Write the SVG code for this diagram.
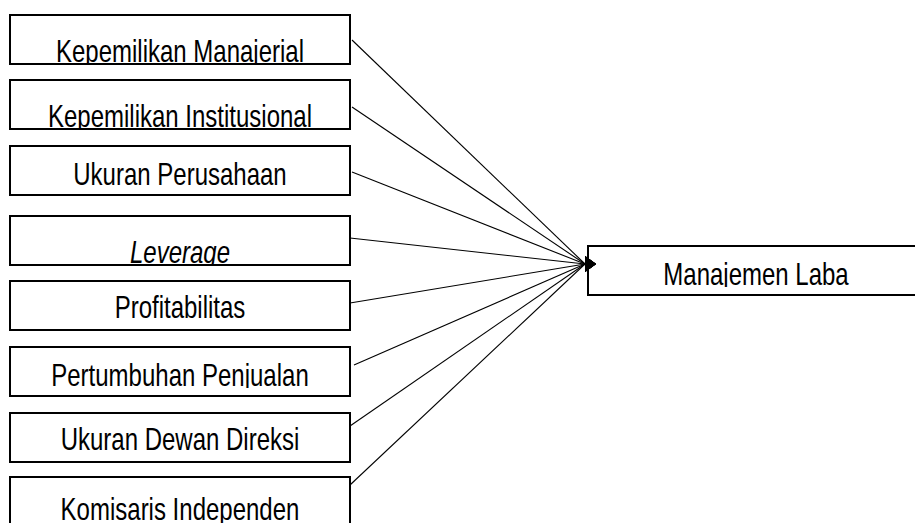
<svg xmlns="http://www.w3.org/2000/svg" width="915" height="523" viewBox="0 0 915 523">
<style>
.box{fill:#fff;stroke:#000;stroke-width:2}
.lbl{font-family:"Liberation Sans",Arial,sans-serif;font-size:24px;fill:#000;text-anchor:middle}
.it{font-style:italic}
.conn line{stroke:#000;stroke-width:1.1;fill:none}
</style>
<defs>
<marker id="ah" markerUnits="userSpaceOnUse" orient="0" viewBox="0 0 11 16" markerWidth="11" markerHeight="16" refX="0" refY="8">
<path d="M0,0 L11,8 L0,16 z" fill="#000"/>
</marker>
<clipPath id="c1" clipPathUnits="userSpaceOnUse"><rect x="10" y="15" width="340" height="49"/></clipPath>
<clipPath id="c2" clipPathUnits="userSpaceOnUse"><rect x="10" y="80" width="340" height="49"/></clipPath>
<clipPath id="c4" clipPathUnits="userSpaceOnUse"><rect x="10" y="216" width="340" height="49"/></clipPath>
<clipPath id="c6" clipPathUnits="userSpaceOnUse"><rect x="10" y="347" width="340" height="41"/></clipPath>
<clipPath id="c9" clipPathUnits="userSpaceOnUse"><rect x="588" y="246" width="340" height="41"/></clipPath>
</defs>
<rect width="915" height="523" fill="#fff"/>
<g id="n1"><rect class="box" x="10" y="15" width="340" height="49"/><g clip-path="url(#c1)"><text class="lbl" transform="translate(180 62) scale(1 1.3)">Kepemilikan Manajerial</text></g></g>
<g id="n2"><rect class="box" x="10" y="80" width="340" height="49"/><g clip-path="url(#c2)"><text class="lbl" transform="translate(180 127) scale(1 1.3)">Kepemilikan Institusional</text></g></g>
<g id="n3"><rect class="box" x="10" y="146" width="340" height="49"/><text class="lbl" transform="translate(180 185) scale(1 1.3)">Ukuran Perusahaan</text></g>
<g id="n4"><rect class="box" x="10" y="216" width="340" height="49"/><g clip-path="url(#c4)"><text class="lbl it" transform="translate(180 263) scale(1 1.3)">Leverage</text></g></g>
<g id="n5"><rect class="box" x="10" y="281" width="340" height="49"/><text class="lbl" transform="translate(180 318) scale(1 1.3)">Profitabilitas</text></g>
<g id="n6"><rect class="box" x="10" y="347" width="340" height="49"/><g clip-path="url(#c6)"><text class="lbl" transform="translate(180 386) scale(1 1.3)">Pertumbuhan Penjualan</text></g></g>
<g id="n7"><rect class="box" x="10" y="413" width="340" height="49"/><text class="lbl" transform="translate(180 450) scale(1 1.3)">Ukuran Dewan Direksi</text></g>
<g id="n8"><rect class="box" x="10" y="477" width="340" height="49"/><text class="lbl" transform="translate(180 520) scale(1 1.3)">Komisaris Independen</text></g>
<g id="n9"><rect class="box" x="588" y="246" width="340" height="49"/><g clip-path="url(#c9)"><text class="lbl" transform="translate(756 285) scale(1 1.3)">Manajemen Laba</text></g></g>
<g id="connectors" class="conn">
<line x1="352" y1="40" x2="585" y2="264" marker-end="url(#ah)"/>
<line x1="352" y1="107" x2="585" y2="264" marker-end="url(#ah)"/>
<line x1="352" y1="172" x2="585" y2="264" marker-end="url(#ah)"/>
<line x1="350" y1="238" x2="585" y2="264" marker-end="url(#ah)"/>
<line x1="350" y1="303" x2="585" y2="264" marker-end="url(#ah)"/>
<line x1="354" y1="365" x2="585" y2="264" marker-end="url(#ah)"/>
<line x1="350" y1="426" x2="585" y2="264" marker-end="url(#ah)"/>
<line x1="350" y1="485" x2="585" y2="264" marker-end="url(#ah)"/>
</g>
</svg>
